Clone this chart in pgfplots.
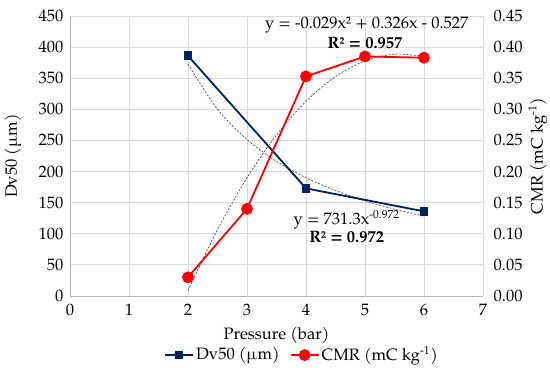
\documentclass[border=0pt]{standalone}
\usepackage{pgfplots}
\pgfplotsset{compat=1.18}
\usepackage{fontspec}
\setmainfont{TeX Gyre Pagella}
\definecolor{dvblue}{RGB}{0,32,96}
\definecolor{gridc}{RGB}{217,217,217}
\definecolor{axc}{RGB}{180,180,180}
\newcommand{\fs}{\fontsize{16.5}{19}\selectfont}
\begin{document}
\fs
\begin{tikzpicture}[x=1pt,y=1pt]
\path[use as bounding box] (0,0) rectangle (550,375);
\pgfplotsset{
  every axis/.append style={
    at={(70pt,79pt)}, anchor=south west,
    scale only axis, width=413pt, height=280pt,
    xmin=0, xmax=7, xtick={0,1,...,7},
    major tick length=0pt,
    grid=major, grid style={gridc, line width=0.8pt},
    /pgf/number format/assume math mode=true,
    tick label style={font=\fs},
    label style={font=\fs},
  },
  trend/.style={dash pattern=on 2pt off 1.6pt, black!70, line width=0.7pt, smooth},
}
\begin{axis}[
  ymin=0, ymax=450, ytick={0,50,...,450},
  axis x line*=bottom, axis y line*=left,
  axis line style={axc, line width=0.8pt},
  xlabel={Pressure (bar)}, ylabel={Dv50 (µm)},
  xlabel style={at={(axis description cs:0.5,-0.139)}, anchor=center},
  ylabel style={at={(axis description cs:-0.138,0.5)}, anchor=center},
  yticklabel style={anchor=east, xshift=-1pt},
  xticklabel style={anchor=north, yshift=-2pt},
]
% power trendline
\addplot[trend] coordinates {
(2,372.8) (2.5,300.1) (3,251.4) (3.5,216.4) (4,190.0) (4.5,169.5) (5,153.0) (5.5,139.5) (6,128.2)};
\addplot[dvblue, line width=1.8pt, mark=square*, mark size=3.5pt] coordinates {
(2,386) (4,173) (6,136)};
\node[font=\fs] at (axis cs:5.03,435.5) {y = -0.029x² + 0.326x - 0.527};
\node[font=\fs\bfseries] at (axis cs:5.0,406.6) {R² = 0.957};
\node[font=\fs] at (axis cs:4.69,122) {y = 731.3x\textsuperscript{-0.972}};
\node[font=\fs\bfseries] at (axis cs:4.69,94.8) {R² = 0.972};
\end{axis}
\begin{axis}[
  ymin=0, ymax=0.45, ytick={0,0.05,...,0.45},
  axis x line=none, axis y line*=right,
  axis line style={draw=none},
  grid=none,
  yticklabel style={/pgf/number format/fixed, /pgf/number format/fixed zerofill, /pgf/number format/precision=2, anchor=west, xshift=5pt},
  ylabel={CMR (mC kg\textsuperscript{-1})},
  ylabel style={at={(axis description cs:1.133,0.5)}, anchor=center, rotate=0},
  legend columns=2,
  legend style={at={(0.562,-0.211)}, anchor=center, draw=none, fill=none,
    font=\fs, /tikz/every even column/.append style={column sep=8pt}},
  legend image code/.code={\draw[#1] (0pt,0pt) -- (28pt,0pt); \draw[#1, mark repeat=1] plot coordinates {(14pt,0pt)};},
]
\addlegendimage{dvblue, line width=1.8pt, mark=square*, mark size=3pt}
\addlegendentry{Dv50 (µm)}
\addplot[trend, forget plot] coordinates {
(2,0.009) (2.5,0.10675) (3,0.19) (3.5,0.25875) (4,0.313) (4.5,0.35275) (5,0.378) (5.5,0.38875) (6,0.385)};
\addplot[red, line width=1.8pt, mark=*, mark size=5pt] coordinates {
(2,0.030) (3,0.140) (4,0.353) (5,0.385) (6,0.383)};
\addlegendentry{CMR (mC kg\textsuperscript{-1})}
\end{axis}
\end{tikzpicture}
\end{document}
